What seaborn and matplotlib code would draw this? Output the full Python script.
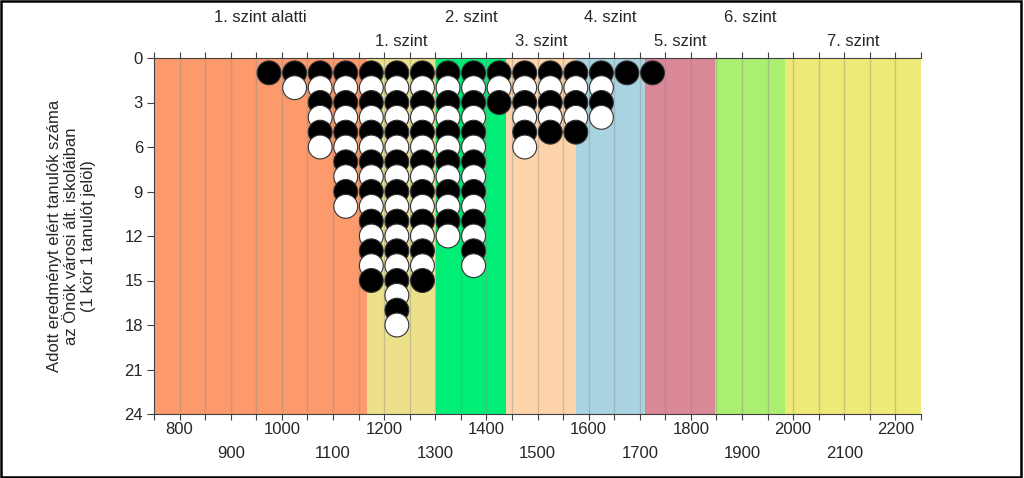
import pandas as pd
import matplotlib
matplotlib.use("Agg")
import matplotlib.pyplot as plt
import seaborn as sns
from matplotlib.patches import Rectangle
from matplotlib.ticker import FixedLocator, FuncFormatter

# Score bins (bin centres, 50-point wide) and number of students in each
bin_centers = [975, 1025, 1075, 1125, 1175, 1225, 1275, 1325, 1375, 1425,
               1475, 1525, 1575, 1625, 1675, 1725]
student_counts = [1, 2, 6, 10, 15, 18, 15, 12, 14, 3, 6, 5, 5, 4, 1, 1]

# Level bands (boundaries on the score scale), names and colours
level_edges = [750, 1166, 1302, 1438, 1575, 1711, 1848, 1984, 2250]
level_names = ["1. szint alatti", "1. szint", "2. szint", "3. szint",
               "4. szint", "5. szint", "6. szint", "7. szint"]
level_colors = ["#FC9A6C", "#EDE08A", "#00EE76", "#FDD4AA",
                "#A9D3E1", "#DA8797", "#AAEE72", "#EEEA78"]

x_min, x_max = 750, 2250
y_max = 24

# one row per student (circle); odd positions black, even positions white
rows = []
for xc, n in zip(bin_centers, student_counts):
    for k in range(1, n + 1):
        rows.append({"score": xc, "count": k, "fill": "odd" if k % 2 else "even"})
dots = pd.DataFrame(rows).sort_values("count", kind="stable")

sns.set_theme(style="white")
plt.rcParams["font.family"] = ["Liberation Sans", "DejaVu Sans"]

fig = plt.figure(figsize=(10.24, 4.78), dpi=100)
ax = fig.add_axes([154 / 1024, 64 / 478, 767 / 1024, 356 / 478])

# coloured level bands
for lo, hi, col in zip(level_edges[:-1], level_edges[1:], level_colors):
    ax.axvspan(lo, hi, color=col, lw=0, zorder=0)

# thin vertical grid every 50 points
for gx in range(800, x_max, 50):
    ax.axvline(gx, color="#8c8c8c", lw=1.0, alpha=0.4, zorder=1)

sns.scatterplot(
    data=dots, x="score", y="count", hue="fill",
    palette={"odd": "black", "even": "white"},
    s=295, edgecolor="#333333", linewidth=0.8,
    legend=False, ax=ax, zorder=3
)

ax.set_xlim(x_min, x_max)
ax.set_ylim(y_max, 0)
ax.set_yticks(range(0, y_max + 1, 3))
ax.set_xlabel("")
ax.set_ylabel("Adott eredményt elért tanulók száma\naz Önök városi ált. iskoláiban\n(1 kör 1 tanulót jelöl)",
              fontsize=12, labelpad=20)

# x ticks: marks every 50, labels alternate between two rows
ax.xaxis.set_major_locator(FixedLocator(list(range(x_min, x_max + 1, 50))))
ax.xaxis.set_major_formatter(FuncFormatter(lambda v, p: f"{int(v)}" if v % 200 == 0 else ""))
ax.xaxis.set_minor_locator(FixedLocator(list(range(900, x_max, 200))))
ax.xaxis.set_minor_formatter(FuncFormatter(lambda v, p: f"{int(v)}"))
ax.xaxis.remove_overlapping_locs = False
ax.tick_params(axis="x", which="major", direction="out", length=4, width=0.8,
               color="#404040", top=True, bottom=True, labeltop=False,
               labelsize=12, pad=2)
ax.tick_params(axis="x", which="minor", length=0, top=False, labelsize=12, pad=23)
ax.tick_params(axis="y", direction="out", length=5, width=0.8, color="#404040",
               labelsize=12, pad=3, left=True)

for side in ["top", "bottom", "left"]:
    ax.spines[side].set_visible(True)
    ax.spines[side].set_color("#404040")
    ax.spines[side].set_linewidth(0.8)
ax.spines["right"].set_visible(False)
ax.set_axisbelow(False)

# level names above the plot, alternating rows
for i, name in enumerate(level_names):
    xc = (level_edges[i] + level_edges[i + 1]) / 2
    y_pos = 1.115 if i % 2 == 0 else 1.045
    ax.text(xc, y_pos, name, transform=ax.get_xaxis_transform(),
            ha="center", va="center", fontsize=12, clip_on=False)

# frame around the whole picture
fig.add_artist(Rectangle((0.001, 0.003), 0.996, 0.994, transform=fig.transFigure,
                         fill=False, lw=1.8, ec="black"))

plt.savefig("out.png", dpi=100)
